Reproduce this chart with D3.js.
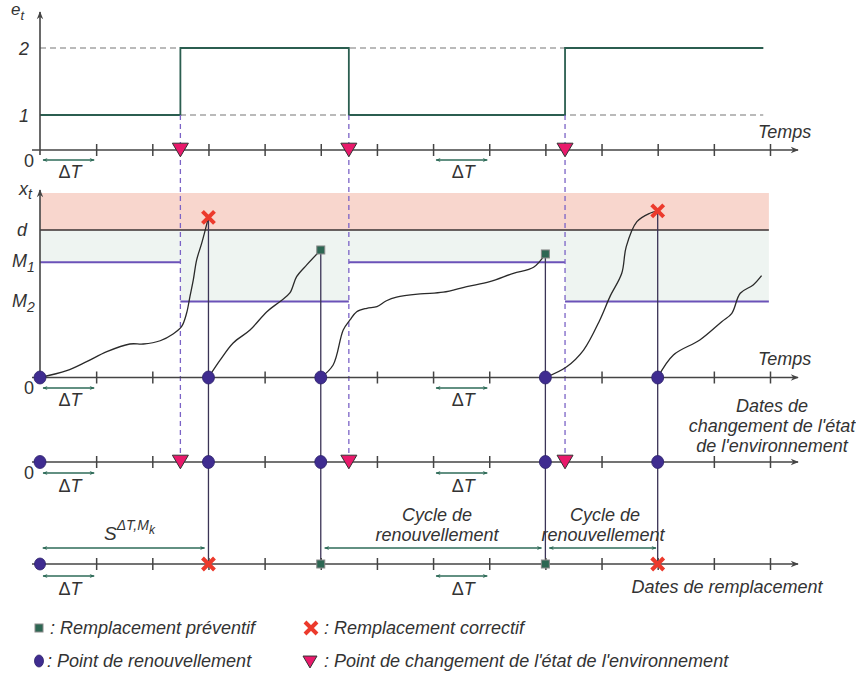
<!DOCTYPE html>
<html><head><meta charset="utf-8">
<script src="https://cdn.jsdelivr.net/npm/d3@7"></script>
<style>
body{margin:0;background:#fff}
svg{display:block}
text{font-family:"Liberation Sans",Arial,Helvetica,sans-serif;fill:#333}
</style>
</head><body>
<svg id="c" width="856" height="675"></svg>
<script>
// ---------------- DATA ----------------
const tickTimes = [1,2,3,4,5,6,7,8,9,10,11,12,13];
const envLevels = [1, 2];
const envStepTimes = [0, 2.5, 5.5, 9.35];
const envStepStates = [1, 2, 1, 2];
const envEndTime = 12.88;
const bandEndTime = 12.98;
const envChangeTimes = [2.5, 5.5, 9.35];
const renewalTimes = [0, 3, 5, 9, 11];
const replacementTimes = [3, 5, 9, 11];
const replacementTypes = ["correctif", "preventif", "preventif", "correctif"];
const failureThreshold = 10;      // d
const thresholdByState = {1: 7.8, 2: 5.15}; // M1, M2
const bandTop = 12.5;
const deltaTArrows = [[0, 1], [7, 8]];
// degradation paths x_t : [time, level]
const path1 = [[0,0],[0.475,0.46],[0.83,1.07],[1.19,1.75],[1.6,2.27],[1.84,2.27],[2.14,2.49],[2.37,2.95],[2.52,3.44],[2.61,4.35],[2.67,5.48],[2.73,6.61],[2.79,7.97],[2.88,9.1],[3.0,10.85]];
const path2 = [[3.0,0],[3.21,1.19],[3.44,2.34],[3.74,3.22],[4.04,4.46],[4.27,5.14],[4.45,5.73],[4.57,6.83],[4.75,7.63],[5.0,8.64]];
const path3 = [[5.0,0],[5.22,0.85],[5.4,3.22],[5.52,3.9],[5.64,4.46],[5.82,4.69],[6.0,4.8],[6.17,5.2],[6.35,5.44],[6.77,5.66],[7.18,5.78],[7.6,6.16],[8.01,6.49],[8.43,7.06],[8.79,7.47],[9.0,8.37]];
const path4 = [[9.0,0],[9.38,0.73],[9.68,1.86],[9.97,3.9],[10.15,5.48],[10.36,7.06],[10.44,8.87],[10.63,10.56],[10.86,11.13],[11.0,11.29]];
const path5 = [[11.0,0],[11.28,1.53],[11.75,2.54],[12.14,3.78],[12.32,4.35],[12.47,5.71],[12.7,6.27],[12.85,6.9]];
const degradationPaths = [path1, path2, path3, path4, path5];

// ---------------- LAYOUT ----------------
const svg = d3.select("#c");
const x = d3.scaleLinear().domain([0, 13]).range([40, 770]);
const eY = d3.scaleLinear().domain([0, 1, 2]).range([150, 115, 48]);
const vY = d3.scaleLinear().domain([0, bandTop]).range([377.5, 193]);
const axisRows = [150, 377.5, 462, 564];
const axisColor = "#444";
const FS = 18;

const defs = svg.append("defs");
defs.append("marker").attr("id","axArr").attr("viewBox","0 0 10 10").attr("refX",9).attr("refY",5)
  .attr("markerWidth",10).attr("markerHeight",8).attr("markerUnits","userSpaceOnUse").attr("orient","auto")
  .append("path").attr("d","M0,1 L10,5 L0,9 L3,5 Z").attr("fill",axisColor);
defs.append("marker").attr("id","gArr").attr("viewBox","0 0 10 10").attr("refX",9).attr("refY",5)
  .attr("markerWidth",7).attr("markerHeight",5).attr("markerUnits","userSpaceOnUse").attr("orient","auto-start-reverse")
  .append("path").attr("d","M0,1 L10,5 L0,9 L3,5 Z").attr("fill","#2e6b58");

// ---------- middle panel bands ----------
const segs = envStepTimes.map((t,i)=>({t0:t, t1: i<envStepTimes.length-1 ? envStepTimes[i+1] : bandEndTime, state: envStepStates[i]}));
svg.append("rect").attr("x",x(0)).attr("y",vY(bandTop)).attr("width",x(bandEndTime)-x(0))
  .attr("height",vY(failureThreshold)-vY(bandTop)).attr("fill","#f8d6cd");
svg.selectAll(".lb").data(segs).join("rect")
  .attr("x",d=>x(d.t0)).attr("width",d=>x(d.t1)-x(d.t0))
  .attr("y",vY(failureThreshold)).attr("height",d=>vY(thresholdByState[d.state])-vY(failureThreshold))
  .attr("fill","#eef4f1");
svg.append("line").attr("x1",x(0)).attr("x2",x(bandEndTime)).attr("y1",vY(failureThreshold)).attr("y2",vY(failureThreshold))
  .attr("stroke","#3a3030").attr("stroke-width",1.5);
svg.selectAll(".ml").data(segs).join("line")
  .attr("x1",d=>x(d.t0)).attr("x2",d=>x(d.t1))
  .attr("y1",d=>vY(thresholdByState[d.state])).attr("y2",d=>vY(thresholdByState[d.state]))
  .attr("stroke","#6b52b8").attr("stroke-width",2);

// ---------- top panel ----------
svg.selectAll(".lvl").data(envLevels).join("line")
  .attr("x1",x(0)).attr("x2",x(envEndTime)).attr("y1",d=>eY(d)).attr("y2",d=>eY(d))
  .attr("stroke","#777").attr("stroke-width",1.2).attr("stroke-dasharray","6,4");
const stepPts = envStepTimes.map((t,i)=>[t, envStepStates[i]]).concat([[envEndTime, envStepStates[envStepStates.length-1]]]);
svg.append("path").attr("d", d3.line().x(d=>x(d[0])).y(d=>eY(d[1])).curve(d3.curveStepAfter)(stepPts))
  .attr("fill","none").attr("stroke","#2b5e50").attr("stroke-width",1.8);

// ---------- dashed env-change verticals ----------
svg.selectAll(".dv").data(envChangeTimes).join("line")
  .attr("x1",d=>x(d)).attr("x2",d=>x(d)).attr("y1",eY(1)).attr("y2",axisRows[2])
  .attr("stroke","#7b63c6").attr("stroke-width",1.3).attr("stroke-dasharray","5,4");

// ---------- solid renewal verticals ----------
const endLevels = replacementTimes.map((t,i)=>{ const p = degradationPaths[i]; return p[p.length-1][1]; });
svg.selectAll(".sv").data(replacementTimes).join("line")
  .attr("x1",d=>x(d)).attr("x2",d=>x(d)).attr("y1",(d,i)=>vY(endLevels[i])).attr("y2",axisRows[3])
  .attr("stroke","#3b3456").attr("stroke-width",1.3);

// ---------- degradation curves ----------
const lineGen = d3.line().x(d=>x(d[0])).y(d=>vY(d[1])).curve(d3.curveCatmullRom.alpha(0.5));
svg.selectAll(".deg").data(degradationPaths).join("path")
  .attr("d",lineGen).attr("fill","none").attr("stroke","#2a2a2a").attr("stroke-width",1.3);

// ---------- axes ----------
axisRows.forEach((yy)=>{
  svg.append("line").attr("x1",32).attr("x2",798).attr("y1",yy).attr("y2",yy)
    .attr("stroke",axisColor).attr("stroke-width",1.6).attr("marker-end","url(#axArr)");
  const g = svg.append("g").attr("transform",`translate(0,${yy})`)
    .call(d3.axisBottom(x).tickValues(tickTimes).tickSize(6).tickFormat(""));
  g.select(".domain").remove();
  g.selectAll(".tick line").attr("y1",-6).attr("y2",6).attr("stroke",axisColor).attr("stroke-width",1.5);
});
// vertical axes
svg.append("line").attr("x1",x(0)).attr("x2",x(0)).attr("y1",155).attr("y2",12)
  .attr("stroke",axisColor).attr("stroke-width",1.6).attr("marker-end","url(#axArr)");
svg.append("line").attr("x1",x(0)).attr("x2",x(0)).attr("y1",378).attr("y2",190)
  .attr("stroke",axisColor).attr("stroke-width",1.6).attr("marker-end","url(#axArr)");

// ---------- ΔT arrows ----------
const dtOff = [[10,28],[10.5,28],[11,30],[12,31]];
axisRows.forEach((yy,ri)=>{
  deltaTArrows.forEach(a=>{
    svg.append("line").attr("x1",x(a[0])+3).attr("x2",x(a[1])-2).attr("y1",yy+dtOff[ri][0]).attr("y2",yy+dtOff[ri][0])
      .attr("stroke","#2e6b58").attr("stroke-width",1.4)
      .attr("marker-start","url(#gArr)").attr("marker-end","url(#gArr)");
    const t = svg.append("text").attr("x",(x(a[0])+x(a[1]))/2+2).attr("y",yy+dtOff[ri][1])
      .attr("text-anchor","middle").attr("font-size",FS);
    t.append("tspan").text("Δ");
    t.append("tspan").attr("font-style","italic").text("T");
  });
});

// ---------- marker helpers ----------
function cross(g, cx, cy, s, w){
  g.append("path").attr("d",`M${cx-s},${cy-s}L${cx+s},${cy+s}M${cx-s},${cy+s}L${cx+s},${cy-s}`)
    .attr("stroke","#ec3a2c").attr("stroke-width",w).attr("fill","none");
}
function square(g, cx, cy, s){
  g.append("rect").attr("x",cx-s/2).attr("y",cy-s/2).attr("width",s).attr("height",s)
    .attr("fill","#2d6753").attr("stroke","#8a8a8a").attr("stroke-width",1);
}
function dot(g, cx, cy, rx, ry){
  g.append("ellipse").attr("cx",cx).attr("cy",cy).attr("rx",rx).attr("ry",ry)
    .attr("fill","#3f2c90").attr("stroke","#2b1f6a").attr("stroke-width",0.8);
}
function tri(g, cx, cy, s){
  g.append("path").attr("d",`M${cx-s},${cy-s*0.85}L${cx+s},${cy-s*0.85}L${cx},${cy+s*0.85}Z`)
    .attr("fill","#e9196b").attr("stroke","#333").attr("stroke-width",1);
}
const mk = svg.append("g");

// middle panel markers
replacementTimes.forEach((t,i)=>{
  if (replacementTypes[i]==="correctif") cross(mk, x(t), vY(endLevels[i]), 6, 4);
  else square(mk, x(t), vY(endLevels[i]), 8);
});
// env-change triangles on axes 1 and 3
envChangeTimes.forEach(t=>{ tri(mk, x(t), axisRows[0], 8); tri(mk, x(t), axisRows[2], 8); });
// renewal dots on axes 2 and 3
renewalTimes.forEach(t=>{ dot(mk, x(t), axisRows[1], 6, 6.5); dot(mk, x(t), axisRows[2], 6, 6.5); });
// bottom axis
dot(mk, x(renewalTimes[0]), axisRows[3], 5.5, 6);
replacementTimes.forEach((t,i)=>{
  if (replacementTypes[i]==="correctif") cross(mk, x(t), axisRows[3], 6, 4);
  else square(mk, x(t), axisRows[3], 8);
});

// ---------- cycle arrows ----------
const cycleArrows = [[0.05, 2.93], [5.07, 8.93], [9.07, 10.97]];
cycleArrows.forEach(a=>{
  svg.append("line").attr("x1",x(a[0])).attr("x2",x(a[1])).attr("y1",548).attr("y2",548)
    .attr("stroke","#2e6b58").attr("stroke-width",1.4)
    .attr("marker-start","url(#gArr)").attr("marker-end","url(#gArr)");
});

// ---------- texts ----------
function itext(xx, yy, str, anchor, size){
  return svg.append("text").attr("x",xx).attr("y",yy).attr("text-anchor",anchor||"start")
    .attr("font-size",size||FS).attr("font-style","italic").text(str);
}
// top panel labels
let t = svg.append("text").attr("x",11).attr("y",15).attr("font-size",17).attr("font-style","italic").text("e");
t.append("tspan").attr("dy",5).attr("font-size",13).text("t");
itext(29, 55, "2", "end", 18);
itext(29, 122, "1", "end", 18);
svg.append("text").attr("x",34).attr("y",167).attr("text-anchor","end").attr("font-size",18).text("0");
itext(758, 138, "Temps");
// middle panel labels
t = svg.append("text").attr("x",19).attr("y",195).attr("font-size",18).attr("font-style","italic").text("x");
t.append("tspan").attr("dy",4).attr("font-size",14).text("t");
itext(17, 236, "d");
t = itext(12, 267, "M"); t.append("tspan").attr("dy",5).attr("font-size",14).text("1");
t = itext(12, 307, "M"); t.append("tspan").attr("dy",5).attr("font-size",14).text("2");
svg.append("text").attr("x",34).attr("y",394).attr("text-anchor","end").attr("font-size",18).text("0");
itext(758, 365, "Temps");
// third axis
svg.append("text").attr("x",34).attr("y",479).attr("text-anchor","end").attr("font-size",18).text("0");
itext(772, 412, "Dates de", "middle");
itext(772, 432, "changement de l'état", "middle");
itext(772, 452, "de l'environnement", "middle");
// bottom axis
t = itext(104, 540, "S", "start", 19);
t.append("tspan").attr("dy",-10).attr("font-size",14).text("ΔT,M");
t.append("tspan").attr("dy",4).attr("font-size",12).text("k");
itext(437, 521, "Cycle de", "middle");
itext(437, 541, "renouvellement", "middle");
itext(605, 521, "Cycle de", "middle");
itext(603, 541, "renouvellement", "middle");
itext(727, 593, "Dates de remplacement", "middle");

// ---------- legend ----------
square(mk, 39, 628, 8);
itext(50, 634, ":  Remplacement préventif");
cross(mk, 311, 628, 6, 4);
itext(324, 634, ":  Remplacement correctif");
dot(mk, 39, 661, 4.5, 6);
itext(47, 667, ":  Point de renouvellement");
tri(mk, 310, 662, 7);
itext(324, 667, ":  Point de changement de l'état de l'environnement");
</script>
</body></html>
